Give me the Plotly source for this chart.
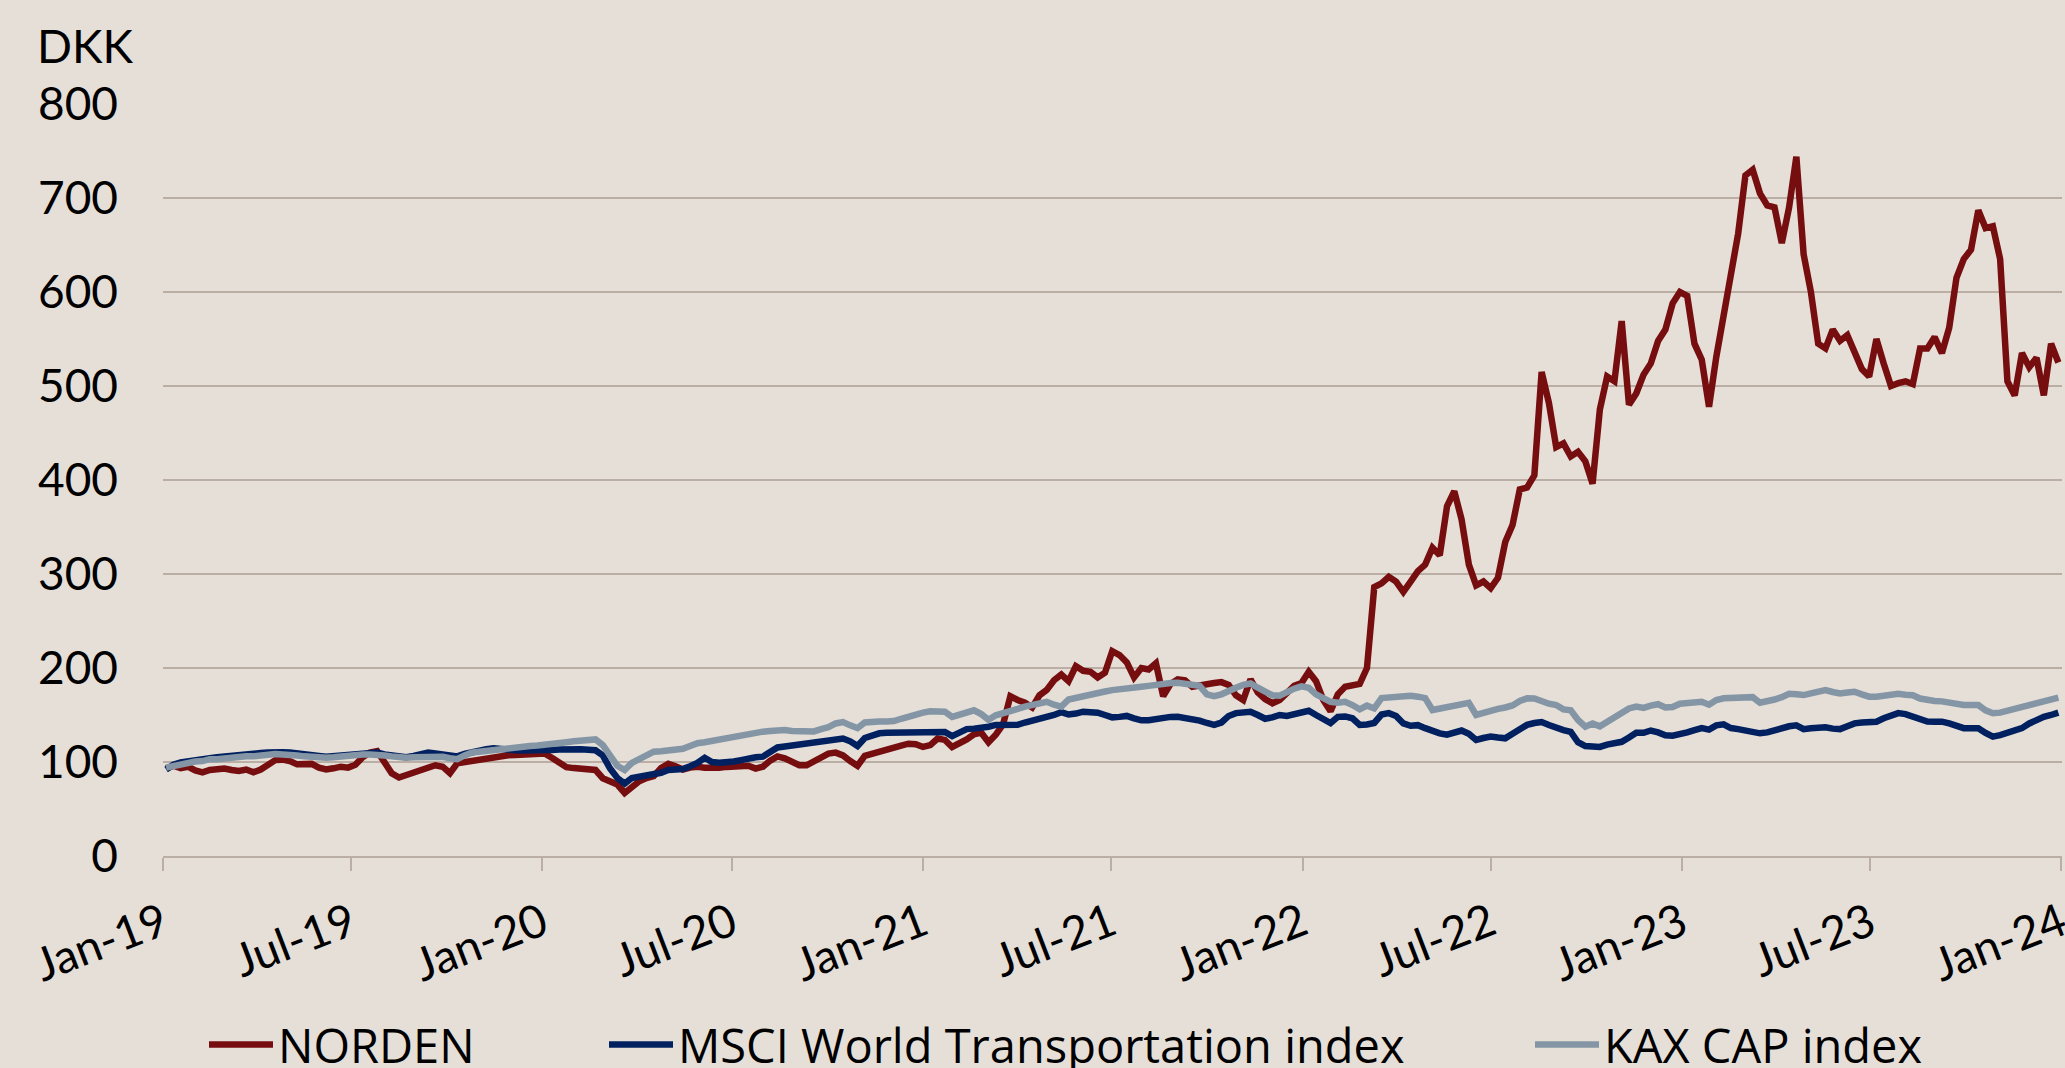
import pandas as pd
import plotly.graph_objects as go

# Weekly observations (Fridays) from 4 Jan 2019 to 29 Dec 2023
dates = pd.date_range("2019-01-04", periods=261, freq="7D")

norden = [
    93, 96, 93.5, 95, 91, 89, 91.5, 92.5, 93, 91.5, 90.5, 92, 89,
    92, 98, 102, 102.5, 101, 97.5, 97.5, 98, 94, 92, 93.3, 95, 94,
    97, 105, 110, 111.5, 100, 88, 83.5, 86.2, 90, 92.5, 94, 96.5, 95,
    88, 98.6, 100, 101.5, 102.5, 104, 105.7, 106.5, 107.2, 107.4, 107.4, 107.6, 108.5,
    109, 104.5, 98.5, 94.5, 93.5, 92.8, 91.8, 91.5, 82.7, 79.1, 76, 67, 73.5,
    79.5, 83, 85, 93.5, 98, 95.5, 92, 94, 95, 94, 93.3, 94, 94.8,
    95.5, 96.2, 96, 93, 95, 101.5, 106, 104, 101, 96.5, 96.5, 100.5, 104.5,
    109, 110, 107, 101, 96, 106.5, 109, 111, 113.5, 116, 117.5, 119.5, 119,
    116, 118, 125, 123.5, 116, 119.5, 124, 129.5, 131.2, 121, 129, 140, 170,
    166, 163, 158, 171, 176.6, 187, 193, 186, 202, 197, 196, 190, 195,
    218, 213.8, 206, 190, 200, 198.5, 205, 170, 183, 188, 187, 180, 181.9,
    183, 184, 185, 182, 171, 166, 188, 174, 167, 162.5, 166, 173, 181,
    184, 196, 186, 166, 154, 172, 180, 181.5, 183, 200, 286, 290, 297,
    292, 281, 292, 303, 310, 328, 320, 372, 388, 358, 310, 288, 292,
    285, 296, 334, 352, 390, 392, 405, 515, 482, 435, 439, 425, 430,
    420, 396, 475, 510, 505, 569, 480, 492, 512, 524, 548, 560, 588,
    600, 596, 545, 528, 478, 531, 575, 620, 662, 724, 730, 705, 692,
    690, 652, 690, 744, 640, 600, 545, 540, 560, 548, 554, 534, 518,
    510, 550, 524, 500, 503, 505, 502, 540, 540, 552, 535, 562, 615,
    635, 645, 687, 668, 670, 635, 505, 490, 535, 520, 530, 490, 545,
    525,
]

msci = [
    92, 97, 99.5, 101, 102, 103, 104, 105, 106, 107, 108, 108.5, 109,
    109.5, 110, 111, 110.5, 110, 109.5, 108.5, 107.5, 106.5, 105.7, 106.5, 107.4, 108,
    109, 109.5, 110, 110, 108, 106.5, 105.5, 105, 106.5, 109, 110, 109, 108,
    106.5, 106, 108.5, 110.5, 112, 113.5, 114.6, 113.5, 113, 112.5, 112.2, 112, 112,
    112.2, 112.8, 113.4, 114, 114.5, 113.5, 113, 112.5, 107, 93, 83, 77, 83,
    84.4, 85, 86.5, 88.5, 91.5, 91.5, 92.5, 95.5, 99, 104.5, 100, 99.3, 99.3,
    100.5, 102, 104, 105, 105.7, 111, 115.5, 116.5, 117.5, 118.1, 119.4, 120.6, 122,
    123.3, 124, 125, 122, 117, 125.5, 128.5, 130.5, 131, 131.2, 131.2, 131.2, 131.5,
    132, 132.5, 133.5, 132, 127.5, 132, 135, 135.5, 136, 137.5, 139.4, 139, 138.5,
    139.5, 142, 144, 145, 146.5, 150, 153, 150.5, 151.5, 153.5, 153, 152.5, 150,
    147.5, 148, 149, 146.5, 144.3, 144.5, 146, 147.5, 148, 148.2, 147, 145.5, 144,
    141.5, 139.5, 142, 149, 152, 153, 153.5, 150, 146, 147.5, 150, 149, 151,
    153.5, 154.5, 150, 145, 141.5, 148, 148.5, 146.5, 139.4, 140, 141.5, 150.5, 152,
    149, 141, 138.5, 139.2, 136, 132.3, 130.5, 129, 132, 133.5, 130, 123.4, 125.5,
    127, 126, 125.2, 130, 135, 139.5, 141.5, 142.5, 139.4, 136, 134, 132, 121,
    117, 117, 116, 118.5, 120.5, 121.5, 126, 131, 131, 133.5, 131.5, 128.5, 128,
    129, 131.5, 134, 136, 134.5, 139, 140, 136.1, 135, 134, 132, 130.5, 131.5,
    134, 136.5, 138, 139, 135, 136, 137, 137, 135.5, 135, 138, 141.1, 142,
    142.9, 142.9, 146.5, 150, 152, 151, 148, 145.5, 143, 142.9, 142.9, 141, 138,
    136, 136, 136, 131, 127, 128.5, 131, 133, 136, 141, 145, 148, 150,
    152.5,
]

kax = [
    94, 96, 97, 99, 100.5, 101, 103, 103, 104, 104, 105, 106, 106,
    107, 108, 108.5, 108, 108, 107, 106, 105, 105, 104.5, 105, 106, 107,
    108, 108, 108, 108, 107, 106, 105, 104.5, 105, 105.5, 106, 106, 105.5,
    104, 103, 107, 110, 111, 112, 113.5, 114, 114.5, 115, 116.5, 117, 117.5,
    118, 119, 119.5, 121, 122, 123, 124.5, 124, 118, 107, 96, 91.5, 99,
    103, 107, 111, 111.5, 112, 114, 114, 117, 120, 121, 122.5, 123.5, 125,
    126, 129, 130.5, 131.5, 132.3, 133, 134, 134, 133, 133, 132.5, 132.5, 135,
    137, 141, 142.5, 139, 136, 142, 143, 143, 143, 143.5, 146, 148.5, 150.5,
    152.5, 154, 154.5, 153.5, 148, 150, 153, 155, 151, 145, 149.7, 152.5, 154.5,
    156.5, 159, 161, 162.5, 164, 161, 159, 166.5, 168.5, 169.5, 171.5, 173, 175,
    176.5, 177, 178, 179, 180, 181, 182.5, 183.7, 184, 184.4, 183, 181, 181,
    172, 170, 172, 176, 179, 182, 183.5, 179, 175, 171, 170.5, 175, 178,
    180.5, 179, 172, 168.5, 164, 163, 164, 160.6, 156, 160, 157, 168, 168.5,
    169, 171, 170.5, 169.5, 168, 155.3, 157, 159, 161, 163, 163, 150, 152.5,
    154.5, 156.5, 158, 160.2, 165, 167.7, 167.5, 164, 162, 160.6, 156, 155, 144.7,
    137.6, 141, 138, 143, 148, 151, 157, 159, 157.5, 160, 161.5, 158, 158.5,
    162, 162.5, 163.5, 164, 161, 166, 167.7, 167.7, 168, 169, 169, 163, 164,
    166.5, 169, 172.5, 172, 171.2, 173, 175, 176.6, 174.5, 173, 174, 174.8, 172,
    169.5, 169.5, 171, 172.5, 172.5, 171.5, 171, 167.5, 165.5, 165, 164.5, 163, 161.5,
    160.6, 160.6, 160.6, 155, 151.8, 152.5, 154.5, 157.5, 159.5, 161.5, 162.5, 164, 166,
    168.5,
]

series_names = ["NORDEN", "MSCI World Transportation index", "KAX CAP index"]
series_values = [norden, msci, kax]
series_colors = ["#760E10", "#002060", "#8496A5"]
legend_ids = ["legend", "legend2", "legend3"]

tick_dates = ["2019-01-01", "2019-07-01", "2020-01-01", "2020-07-01", "2021-01-01",
              "2021-07-01", "2022-01-01", "2022-07-01", "2023-01-01", "2023-07-01",
              "2024-01-01"]
tick_labels = ["Jan-19", "Jul-19", "Jan-20", "Jul-20", "Jan-21", "Jul-21",
               "Jan-22", "Jul-22", "Jan-23", "Jul-23", "Jan-24"]
y_ticks = [0, 100, 200, 300, 400, 500, 600, 700, 800]

AXFONT = "Lato, 'Open Sans', sans-serif"
LEGFONT = "'Open Sans', Lato, sans-serif"
BG = "#E5DFD8"
GRID = "#BBAFA5"
W, H = 2065, 1068

# plot area in pixels: x 163..2062, y 104..856
PL, PW, PT, PH = 163, 1899, 104, 752


def px_x(x):
    return (x - PL) / PW


def px_y(y):
    return (PT + PH - y) / PH


fig = go.Figure()
for name, vals, col, lg in zip(series_names, series_values, series_colors, legend_ids):
    fig.add_trace(go.Scatter(
        x=dates, y=vals, mode="lines", name=name,
        line=dict(color=col, width=6.5), legend=lg, hoverinfo="skip",
    ))

legend_common = dict(
    orientation="h", xref="container", yref="container",
    y=1 - 1045 / H, yanchor="middle", xanchor="left",
    bgcolor="rgba(0,0,0,0)", borderwidth=0,
    font=dict(family=LEGFONT, size=47, color="#000000"), itemwidth=64,
    itemclick=False, itemdoubleclick=False,
)

fig.update_layout(
    width=W, height=H,
    paper_bgcolor=BG, plot_bgcolor=BG,
    margin=dict(l=PL, r=W - PL - PW, t=PT, b=H - PT - PH, autoexpand=False),
    font=dict(family=AXFONT, size=46, color="#000000"),
    showlegend=True,
    legend=dict(legend_common, x=204 / W),
    legend2=dict(legend_common, x=604 / W),
    legend3=dict(legend_common, x=1530 / W),
    xaxis=dict(
        type="date", range=["2019-01-01", "2024-01-01 12:00"],
        tickmode="array", tickvals=tick_dates, ticktext=tick_labels,
        tickangle=-21, ticks="outside", ticklen=13, tickwidth=2, tickcolor=GRID,
        showline=True, linecolor=GRID, linewidth=2, showgrid=False, zeroline=False,
        tickfont=dict(family=AXFONT, size=46, color="#000000"),
        ticklabelstandoff=8, automargin=False, ticklabeloverflow="allow",
    ),
    yaxis=dict(
        range=[0, 800], tickmode="array", tickvals=y_ticks,
        showgrid=True, gridcolor=GRID, gridwidth=2, zeroline=False,
        ticks="", showline=False,
        tickfont=dict(family=AXFONT, size=46, color="#000000"),
        ticklabelstandoff=44, automargin=False,
    ),
    annotations=[dict(
        text="DKK", xref="paper", yref="paper", x=px_x(35), y=px_y(45),
        xanchor="left", yanchor="middle", showarrow=False,
        font=dict(family=AXFONT, size=46, color="#000000"),
    )],
)

fig.write_html(
    "out.html",
    config={"displayModeBar": False, "staticPlot": True},
    post_script="document.body.style.margin='0';document.body.style.overflow='hidden';",
)
